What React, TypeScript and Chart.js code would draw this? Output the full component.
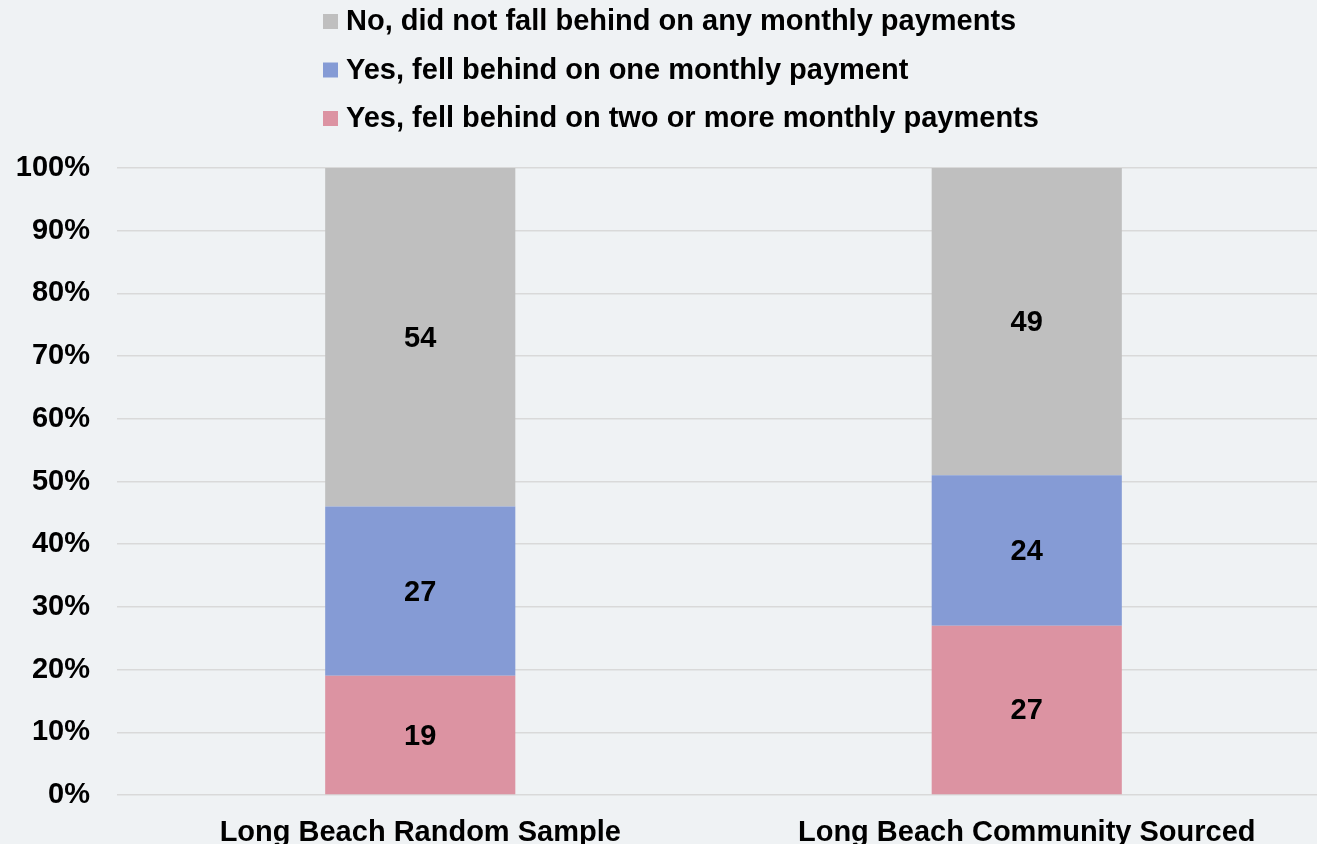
import React, { useEffect, useRef } from 'react';
import { Chart, registerables } from 'chart.js';

Chart.register(...registerables);

const categories = ['Long Beach Random Sample', 'Long Beach Community Sourced'];
const seriesLabels = [
  'Yes, fell behind on two or more monthly payments',
  'Yes, fell behind on one monthly payment',
  'No, did not fall behind on any monthly payments',
];
const twoOrMore = [19, 27];
const oneMonth = [27, 24];
const noneBehind = [54, 49];
const seriesColors = ['#dc93a2', '#859bd5', '#bfbfbf'];
const yMax = 100;
const yStep = 10;

const FONT = '"Liberation Sans", Arial, Helvetica, sans-serif';
const FS = 29;

const legendPlugin = {
  id: 'stackLegend',
  afterDraw(chart: any) {
    const ctx = chart.ctx;
    const ds = chart.data.datasets;
    ctx.save();
    ctx.font = `bold ${FS}px ${FONT}`;
    ctx.textBaseline = 'middle';
    ctx.textAlign = 'left';
    const order = [2, 1, 0];
    order.forEach((di, i) => {
      const y = 21.5 + i * 48.5;
      ctx.fillStyle = ds[di].backgroundColor;
      ctx.fillRect(323, y - 7.5, 15, 15);
      ctx.fillStyle = '#000';
      ctx.fillText(ds[di].label, 346, y + 0.5);
    });
    ctx.restore();
  },
};

const valueLabelPlugin = {
  id: 'valueLabels',
  afterDatasetsDraw(chart: any) {
    const ctx = chart.ctx;
    ctx.save();
    ctx.font = `bold ${FS}px ${FONT}`;
    ctx.fillStyle = '#000';
    ctx.textAlign = 'center';
    ctx.textBaseline = 'middle';
    chart.data.datasets.forEach((d: any, di: number) => {
      const meta = chart.getDatasetMeta(di);
      meta.data.forEach((el: any, i: number) => {
        const cy = (el.y + el.base) / 2 + 1.5;
        ctx.fillText(String(d.data[i]), el.x, cy);
      });
    });
    ctx.restore();
  },
};

export default function App() {
  const ref = useRef<HTMLCanvasElement | null>(null);
  useEffect(() => {
    if (!ref.current) return;
    const chart = new Chart(ref.current, {
      type: 'bar',
      data: {
        labels: categories,
        datasets: [
          { label: seriesLabels[0], data: twoOrMore, backgroundColor: seriesColors[0] },
          { label: seriesLabels[1], data: oneMonth, backgroundColor: seriesColors[1] },
          { label: seriesLabels[2], data: noneBehind, backgroundColor: seriesColors[2] },
        ].map((d) => ({ ...d, borderWidth: 0, barPercentage: 0.3135, categoryPercentage: 1 })),
      },
      options: {
        animation: false,
        responsive: false,
        maintainAspectRatio: false,
        layout: { padding: { top: 168, left: 0, right: 0, bottom: 0 } },
        plugins: {
          legend: { display: false },
          tooltip: { enabled: false },
        },
        scales: {
          x: {
            stacked: true,
            grid: { display: false },
            border: { display: false },
            ticks: {
              color: '#000',
              font: { family: FONT, size: FS, weight: 'bold' },
              padding: 13,
              maxRotation: 0,
            },
            afterFit: (s: any) => {
              s.height = 49;
            },
          },
          y: {
            stacked: true,
            min: 0,
            max: yMax,
            grid: { color: '#d9d9d9', lineWidth: 1.5, drawTicks: false },
            border: { display: false },
            ticks: {
              stepSize: yStep,
              color: '#000',
              padding: 27,
              font: { family: FONT, size: FS, weight: 'bold' },
              callback: (v: any) => `${v}%`,
            },
            afterFit: (s: any) => {
              s.width = 117;
            },
          },
        },
      } as any,
      plugins: [legendPlugin, valueLabelPlugin],
    });
    return () => chart.destroy();
  }, []);

  return (
    <div
      style={{
        position: 'fixed',
        left: 0,
        top: 0,
        width: 1317,
        height: 844,
        overflow: 'hidden',
        background: '#eff2f4',
      }}
    >
      <canvas ref={ref} width={1330} height={844} style={{ display: 'block', width: 1330, height: 844 }} />
    </div>
  );
}
